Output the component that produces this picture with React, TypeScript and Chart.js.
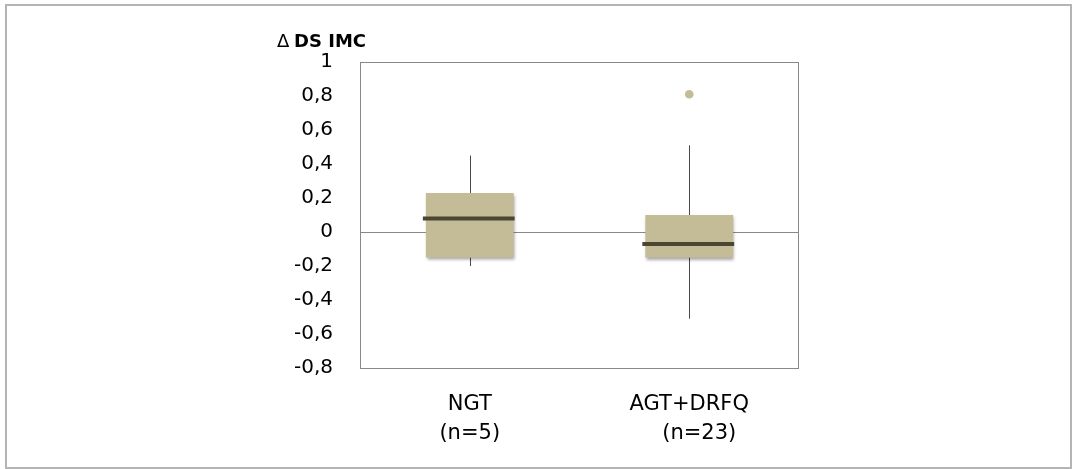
import React, { useEffect, useRef } from "react";
import { Chart, registerables } from "chart.js";

Chart.register(...registerables);

const categories: string[][] = [["NGT", "(n=5)"], ["AGT+DRFQ", "   (n=23)"]];
const whiskerLow: number[] = [-0.2, -0.51];
const q1: number[] = [-0.15, -0.15];
const median: number[] = [0.08, -0.07];
const q3: number[] = [0.23, 0.1];
const whiskerHigh: number[] = [0.45, 0.51];
const outliers: (number | null)[] = [null, 0.81];
const yTickValues: number[] = [-0.8, -0.6, -0.4, -0.2, 0, 0.2, 0.4, 0.6, 0.8, 1];
const yTitleSymbol = "\u0394";
const yTitleText = "DS IMC";

const BOX_COLOR = "#c4bc96";
const MEDIAN_COLOR = "#4b4631";
const WHISKER_COLOR = "#4a4a4a";
const AXIS_COLOR = "#888888";

const fmt = (v: number) => {
  const r = Math.round(v * 10) / 10;
  return String(r).replace(".", ",");
};

const boxPlugin = {
  id: "boxPlugin",
  beforeDatasetsDraw(chart: any) {
    const { ctx, chartArea, scales } = chart;
    const y = scales.y;
    const x = scales.x;
    ctx.save();
    const y0 = Math.round(y.getPixelForValue(0)) + 0.5;
    ctx.strokeStyle = AXIS_COLOR;
    ctx.lineWidth = 1;
    ctx.beginPath();
    ctx.moveTo(chartArea.left, y0);
    ctx.lineTo(chartArea.right, y0);
    ctx.stroke();
    ctx.strokeStyle = WHISKER_COLOR;
    for (let i = 0; i < categories.length; i++) {
      const cx = Math.round(x.getPixelForValue(i)) + 0.5;
      ctx.beginPath();
      ctx.moveTo(cx, y.getPixelForValue(whiskerHigh[i]));
      ctx.lineTo(cx, y.getPixelForValue(q3[i]));
      ctx.moveTo(cx, y.getPixelForValue(q1[i]));
      ctx.lineTo(cx, y.getPixelForValue(whiskerLow[i]));
      ctx.stroke();
    }
    ctx.restore();
  },
  beforeDatasetDraw(chart: any, args: any) {
    if (args.index === 0) {
      const ctx = chart.ctx;
      ctx.save();
      ctx.shadowColor = "rgba(0,0,0,0.35)";
      ctx.shadowBlur = 3;
      ctx.shadowOffsetX = 1;
      ctx.shadowOffsetY = 2;
    }
  },
  afterDatasetDraw(chart: any, args: any) {
    if (args.index === 0) {
      const ctx = chart.ctx;
      ctx.restore();
      const y = chart.scales.y;
      const meta = chart.getDatasetMeta(0);
      ctx.save();
      ctx.strokeStyle = MEDIAN_COLOR;
      ctx.lineWidth = 4;
      meta.data.forEach((bar: any, i: number) => {
        const my = y.getPixelForValue(median[i]);
        ctx.beginPath();
        ctx.moveTo(bar.x - bar.width / 2 - 3, my);
        ctx.lineTo(bar.x + bar.width / 2 + 1, my);
        ctx.stroke();
      });
      ctx.restore();
    }
  },
  afterDraw(chart: any) {
    const { ctx, chartArea } = chart;
    ctx.save();
    ctx.strokeStyle = AXIS_COLOR;
    ctx.lineWidth = 1;
    ctx.strokeRect(
      Math.round(chartArea.left) + 0.5,
      Math.round(chartArea.top) + 0.5,
      Math.round(chartArea.right - chartArea.left) - 1,
      Math.round(chartArea.bottom - chartArea.top)
    );
    ctx.fillStyle = "#000";
    ctx.textBaseline = "middle";
    ctx.textAlign = "left";
    const tx = chartArea.left - 83;
    const ty = chartArea.top - 20;
    ctx.font = "18px 'DejaVu Sans'";
    ctx.fillText(yTitleSymbol, tx, ty);
    const w = ctx.measureText(yTitleSymbol + " ").width;
    ctx.font = "bold 18px 'DejaVu Sans'";
    ctx.fillText(yTitleText, tx + w - 1, ty);
    ctx.restore();
  },
};

export default function App() {
  const ref = useRef<HTMLCanvasElement | null>(null);
  useEffect(() => {
    document.body.style.margin = "0";
    if (!ref.current) return;
    const chart = new Chart(ref.current, {
      type: "bar",
      data: {
        labels: categories,
        datasets: [
          {
            type: "bar",
            data: q1.map((v, i) => [v, q3[i]]) as any,
            backgroundColor: BOX_COLOR,
            borderWidth: 0,
            barPercentage: 0.4,
            categoryPercentage: 1,
          },
          {
            type: "line",
            data: outliers as any,
            showLine: false,
            pointRadius: 4.3,
            pointBackgroundColor: BOX_COLOR,
            pointBorderWidth: 0,
            borderColor: BOX_COLOR,
          },
        ],
      },
      options: {
        responsive: false,
        animation: false,
        layout: { padding: { left: 0, top: 62, right: 273, bottom: 0 } },
        plugins: { legend: { display: false }, tooltip: { enabled: false } },
        scales: {
          x: {
            grid: { display: false, drawTicks: false },
            border: { display: false },
            ticks: {
              color: "#000",
              font: { family: "'DejaVu Sans'", size: 21, lineHeight: 1.38 },
              padding: 22,
              maxRotation: 0,
              autoSkip: false,
            },
            afterFit: (s: any) => {
              s.height = 101;
            },
          },
          y: {
            min: -0.8,
            max: 1,
            grid: { display: false, drawTicks: false },
            border: { display: false },
            afterBuildTicks: (s: any) => {
              s.ticks = yTickValues.map((v) => ({ value: v }));
            },
            ticks: {
              color: "#000",
              font: { family: "'DejaVu Sans'", size: 20 },
              padding: 27,
              callback: (v: any) => fmt(Number(v)),
            },
            afterFit: (s: any) => {
              s.width = 360;
            },
          },
        },
      },
      plugins: [boxPlugin],
    });
    return () => chart.destroy();
  }, []);
  return (
    <div style={{ position: "relative", width: 1072, height: 469, background: "#fff" }}>
      <div
        style={{
          position: "absolute",
          left: 5,
          top: 4,
          width: 1067,
          height: 465,
          border: "2px solid #b4b4b4",
          boxSizing: "border-box",
        }}
      />
      <canvas ref={ref} width={1072} height={469} style={{ position: "absolute", left: 0, top: 0 }} />
    </div>
  );
}
